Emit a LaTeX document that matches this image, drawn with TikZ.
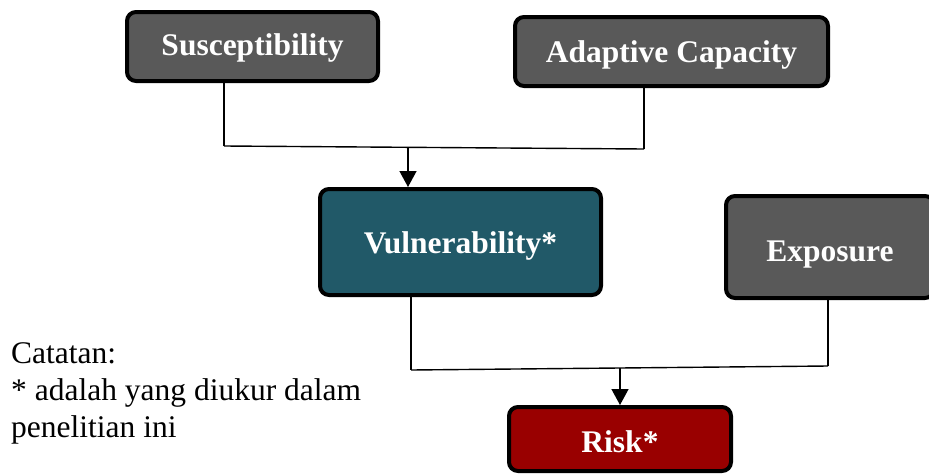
\documentclass[tikz,border=0pt]{standalone}
\usepackage{fontspec}
\setmainfont{Liberation Serif}
\usetikzlibrary{arrows.meta}
\definecolor{boxgray}{HTML}{595959}
\definecolor{boxteal}{HTML}{215968}
\definecolor{boxred}{HTML}{990000}
\tikzset{
  box/.style={draw=black, line width=4pt, rounded corners=9pt, text=white,
    font=\fontsize{31.5}{36}\selectfont\bfseries, inner sep=0pt, align=center, text depth=0pt},
  conn/.style={draw=black, line width=1.4pt},
  arr/.style={conn, -{Triangle[length=16pt,width=17pt]}},
  note/.style={anchor=base west, inner sep=0pt, font=\fontsize{31.5}{37}\selectfont}
}
\begin{document}
\begin{tikzpicture}[x=1pt,y=-1pt]
\clip (0,0) rectangle (929,474);
\useasboundingbox (0,0) rectangle (929,474);
\node[box, fill=boxgray, minimum width=251pt, minimum height=69pt, text height=17pt] (sus) at (252.5,46.5) {Susceptibility};
\node[box, fill=boxgray, minimum width=313pt, minimum height=69pt, text height=21pt] (ada) at (671.5,51.5) {Adaptive Capacity};
\node[box, fill=boxteal, minimum width=281pt, minimum height=106pt, text height=22pt] (vul) at (460.5,242) {Vulnerability*};
\node[box, fill=boxgray, minimum width=208pt, minimum height=102pt, text height=29pt] (exp) at (830,247) {Exposure};
\node[box, fill=boxred, minimum width=222pt, minimum height=64pt, text height=26pt] (risk) at (620,439) {Risk*};
% junction 1
\coordinate (j1l) at (224,146);
\coordinate (j1r) at (644,149);
\coordinate (j1a) at (408,147.5);
\draw[conn] (sus.south -| j1l) -- (j1l);
\draw[conn] (ada.south -| j1r) -- (j1r);
\draw[conn] (j1l) -- (j1r);
\draw[arr] (j1a) -- (vul.north -| j1a);
% junction 2
\coordinate (j2l) at (411,370);
\coordinate (j2r) at (828,366);
\coordinate (j2a) at (620,368);
\draw[conn] (vul.south -| j2l) -- (j2l);
\draw[conn] (exp.south -| j2r) -- (j2r);
\draw[conn] (j2l) -- (j2r);
\draw[arr] (j2a) -- (risk.north -| j2a);
% note
\node[note] (n1) at (11,363) {Catatan:};
\node[note] (n2) at (11,400) {* adalah yang diukur dalam};
\node[note] (n3) at (11,437) {penelitian ini};
\end{tikzpicture}
\end{document}
